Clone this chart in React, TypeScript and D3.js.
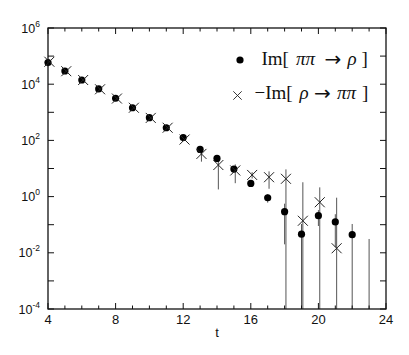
import React from "react";
import * as d3 from "d3";

// Im[ pi pi -> rho ]  (filled circles)
const dotT = [4, 5, 6, 7, 8, 9, 10, 11, 12, 13, 14, 15, 16, 17, 18, 19, 20, 21, 22, 23];
const dotValues = [
  5.9e4, 2.95e4, 1.41e4, 6.8e3, 3.16e3, 1.45e3, 646, 282, 126, 47.9, 22.9, 9.55,
  2.95, 0.91, 0.29, 0.046, 0.21, 0.126, 0.044, -0.01,
];
const dotErrors = [
  3000, 1200, 500, 250, 120, 60, 30, 15, 8, 4, 3, 1.5, 0.6, 0.3, 0.27, 0.06, 0.12,
  0.11, 0.062, 0.041,
];

// -Im[ rho -> pi pi ]  (crosses)
const crossT = [4, 5, 6, 7, 8, 9, 10, 11, 12, 13, 14, 15, 16, 17, 18, 19, 20, 21];
const crossValues = [
  6.3e4, 2.9e4, 1.41e4, 6.6e3, 3.09e3, 1.45e3, 631, 282, 107, 33.1, 13.3, 8.5, 5.9,
  4.9, 4.3, 0.138, 0.63, 0.0145,
];
const crossErrors = [
  4000, 1500, 700, 350, 160, 80, 35, 18, 10, 15.6, 11.5, 5.5, 1.5, 3, 5, 3.1, 1.5, 0.9,
];

const xMajor = [4, 8, 12, 16, 20, 24];
const xMinor = d3.range(4, 25);
const yDecades = d3.range(-4, 7);
const yLabelExps = [-4, -2, 0, 2, 4, 6];

const W = 409;
const H = 355;
const left = 48;
const right = 386;
const top = 28;
const bottom = 309;
const crossShift = 0.08;

const x = d3.scaleLinear().domain([4, 24]).range([left, right]);
const y = d3.scaleLog().domain([1e-4, 1e6]).range([bottom, top]);

const sans = "'Liberation Sans', Arial, Helvetica, sans-serif";
const serif = "'Liberation Serif', 'Times New Roman', serif";

function errY(v: number, e: number) {
  const lo = v - e;
  const hi = v + e;
  return {
    y1: lo <= 1e-4 ? bottom : y(lo),
    y2: hi <= 1e-4 ? bottom : Math.max(top, y(hi)),
  };
}

function Cross({ cx, cy, s, w = 1 }: { cx: number; cy: number; s: number; w?: number }) {
  return (
    <path
      d={`M${cx - s},${cy - s}L${cx + s},${cy + s}M${cx - s},${cy + s}L${cx + s},${cy - s}`}
      stroke="#222"
      strokeWidth={w}
      fill="none"
    />
  );
}

function Arrow({ x0, y0 }: { x0: number; y0: number }) {
  return (
    <text x={x0} y={y0} fontFamily="'DejaVu Sans', sans-serif" fontSize={20}>
      →
    </text>
  );
}

export default function App() {
  return (
    <svg
      width={W}
      height={H}
      style={{ position: "absolute", left: 0, top: 0, background: "#fff" }}
    >
      {/* error bars */}
      <g stroke="#555" strokeWidth={1}>
        {dotT.map((t, i) => {
          const { y1, y2 } = errY(dotValues[i], dotErrors[i]);
          return <line key={"de" + i} x1={x(t)} x2={x(t)} y1={y1} y2={y2} />;
        })}
        {crossT.map((t, i) => {
          const { y1, y2 } = errY(crossValues[i], crossErrors[i]);
          return (
            <line
              key={"ce" + i}
              x1={x(t + crossShift)}
              x2={x(t + crossShift)}
              y1={y1}
              y2={y2}
            />
          );
        })}
      </g>

      {/* markers */}
      <g fill="#000">
        {dotT.map((t, i) =>
          dotValues[i] > 1e-4 ? (
            <circle key={"d" + i} cx={x(t)} cy={y(dotValues[i])} r={3.6} />
          ) : null
        )}
      </g>
      {crossT.map((t, i) => (
        <Cross key={"c" + i} cx={x(t + crossShift)} cy={y(crossValues[i])} s={5} />
      ))}

      {/* frame */}
      <rect
        x={left}
        y={top}
        width={right - left}
        height={bottom - top}
        fill="none"
        stroke="#111"
        strokeWidth={1.3}
      />

      {/* ticks */}
      <g stroke="#111" strokeWidth={1}>
        {xMinor.map((t) => {
          const len = xMajor.includes(t) ? 6 : 3.5;
          return (
            <g key={"xt" + t}>
              <line x1={x(t)} x2={x(t)} y1={bottom} y2={bottom - len} />
              <line x1={x(t)} x2={x(t)} y1={top} y2={top + len} />
            </g>
          );
        })}
        {yDecades.map((e) => (
          <g key={"yt" + e}>
            <line x1={left} x2={left + 6} y1={y(10 ** e)} y2={y(10 ** e)} />
            <line x1={right} x2={right - 6} y1={y(10 ** e)} y2={y(10 ** e)} />
          </g>
        ))}
      </g>

      {/* x labels */}
      <g fontFamily={sans} fontSize={13} fill="#111" textAnchor="middle">
        {xMajor.map((t) => (
          <text key={"xl" + t} x={x(t)} y={bottom + 15}>
            {t}
          </text>
        ))}
        <text x={(left + right) / 2} y={bottom + 28}>
          t
        </text>
      </g>

      {/* y labels */}
      <g fontFamily={sans} fill="#111" textAnchor="end">
        {yLabelExps.map((e) => (
          <text key={"yl" + e} x={40} y={y(10 ** e) + 4.5} fontSize={12.5}>
            10
            <tspan dy={-6} fontSize={8.5}>
              {e < 0 ? "-" + Math.abs(e) : String(e)}
            </tspan>
          </text>
        ))}
      </g>

      {/* legend */}
      <g fontFamily={serif} fontSize={19} fill="#111">
        <circle cx={240} cy={60} r={3.6} fill="#000" />
        <text y={65}>
          <tspan x={261.5}>Im[</tspan>
          <tspan x={296} fontStyle="italic">ππ</tspan>
          <tspan x={347.5} fontStyle="italic">ρ</tspan>
          <tspan x={361.5}>]</tspan>
        </text>
        <Arrow x0={324.5} y0={66} />

        <Cross cx={237.5} cy={95.5} s={4.2} w={0.9} />
        <text y={99.3}>
          <tspan x={254.5}>−Im[</tspan>
          <tspan x={299.5} fontStyle="italic">ρ</tspan>
          <tspan x={337} fontStyle="italic">ππ</tspan>
          <tspan x={362}>]</tspan>
        </text>
        <Arrow x0={314} y0={100.3} />
      </g>
    </svg>
  );
}
